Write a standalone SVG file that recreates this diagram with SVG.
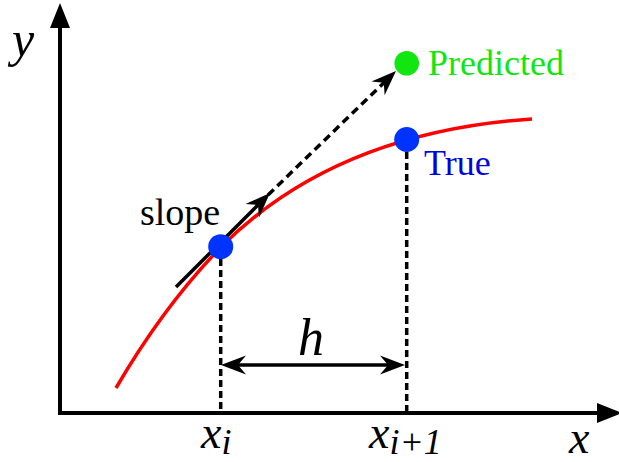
<svg xmlns="http://www.w3.org/2000/svg" width="619" height="462" viewBox="0 0 619 462">
  <style>
    .ax { stroke: #000; stroke-width: 4; fill: none; }
    .ln { stroke: #000; stroke-width: 3.5; fill: none; }
    .dash { stroke: #000; stroke-width: 3.5; fill: none; stroke-dasharray: 7 4; }
    .dash2 { stroke: #000; stroke-width: 3.5; fill: none; stroke-dasharray: 8 5; }
    .curve { stroke: #ff0000; stroke-width: 3.5; fill: none; }
    text { font-family: 'Liberation Serif', Tinos, 'Times New Roman', Times, 'DejaVu Serif', serif; }
    .math { font-style: italic; }
  </style>
  <defs>
    <marker id="axh" viewBox="-26 -11 28 22" markerWidth="28" markerHeight="22" refX="-23" refY="0" orient="auto" markerUnits="userSpaceOnUse">
      <path d="M0,0 L-25,-10 L-25,10 Z" fill="#000"/>
    </marker>
    <marker id="ah" viewBox="-27 -11 29 22" markerWidth="29" markerHeight="22" refX="-15" refY="0" orient="auto-start-reverse" markerUnits="userSpaceOnUse">
      <path d="M0,0 L-25,-9.5 L-17,0 L-25,9.5 Z" fill="#000"/>
    </marker>
  </defs>

  <g id="axes">
    <line class="ax" x1="60" y1="415" x2="60" y2="26" marker-end="url(#axh)"/>
    <line class="ax" x1="58" y1="413" x2="599" y2="413" marker-end="url(#axh)"/>
    <text class="math" x="12" y="56" font-size="50">y</text>
    <text class="math" x="569" y="453" font-size="46">x</text>
  </g>

  <g id="curve">
    <path class="curve" d="M116,388 C151,328 188,281 221,247 C311,157 428,126 532,119"/>
  </g>

  <g id="connectors">
    <line class="ln" x1="176" y1="287" x2="259.4" y2="203.6" marker-end="url(#ah)"/>
    <line class="dash2" x1="268" y1="195" x2="385.2" y2="81.4" marker-end="url(#ah)"/>
    <line class="dash" x1="220.7" y1="259" x2="220.7" y2="411"/>
    <line class="dash" x1="406.7" y1="152" x2="406.7" y2="411"/>
    <line class="ln" x1="236" y1="365" x2="390" y2="365" marker-start="url(#ah)" marker-end="url(#ah)"/>
  </g>

  <g id="node-xi">
    <circle cx="220.7" cy="246.7" r="12.5" fill="#0033ff"/>
    <text x="140" y="225" font-size="38">slope</text>
  </g>

  <g id="node-true">
    <circle cx="406.7" cy="139.5" r="12.5" fill="#0033ff"/>
    <text x="424" y="175" font-size="36" fill="#0000dd">True</text>
  </g>

  <g id="node-predicted">
    <circle cx="406.7" cy="63.3" r="12.3" fill="#11e611"/>
    <text x="428" y="75" font-size="36" fill="#11e611">Predicted</text>
  </g>

  <g id="labels">
    <text class="math" x="298" y="355" font-size="52">h</text>
    <text class="math" x="201" y="448" font-size="46">x<tspan dy="6" font-size="36">i</tspan></text>
    <text class="math" x="369" y="448" font-size="46">x<tspan dy="6" font-size="36">i+1</tspan></text>
  </g>
</svg>
